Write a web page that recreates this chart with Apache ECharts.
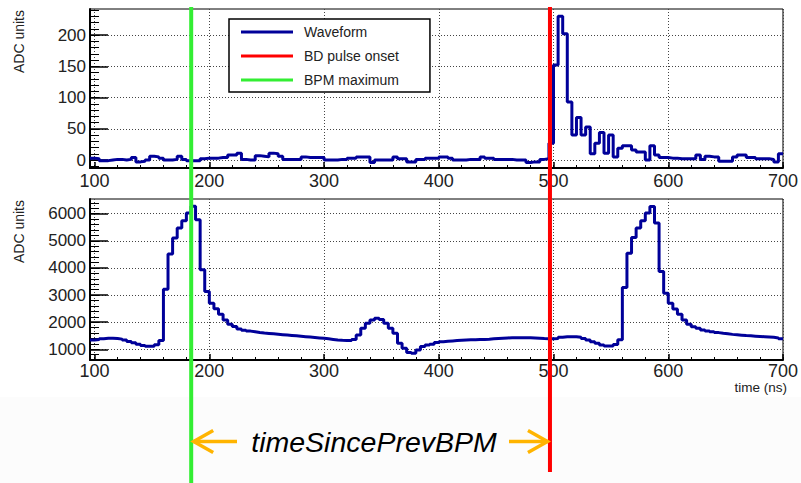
<!DOCTYPE html>
<html>
<head>
<meta charset="utf-8">
<script src="https://cdn.jsdelivr.net/npm/echarts@6/dist/echarts.min.js"></script>
<style>
html,body{margin:0;padding:0;background:#ffffff;}
#chart{width:801px;height:483px;}
</style>
</head>
<body>
<div id="chart"></div>
<script>
// ---------------- data ----------------
const binStart = 96;      // ns, left edge of first bin
const binWidth = 4;       // ns
const xMin = 96;
const xMax = 700;

const xTickValues = [100, 200, 300, 400, 500, 600, 700];
const xMinorTickValues = [100, 120, 140, 160, 180, 200, 220, 240, 260, 280, 300, 320, 340, 360, 380, 400,
  420, 440, 460, 480, 500, 520, 540, 560, 580, 600, 620, 640, 660, 680, 700];

const topYMin = -12.8, topYMax = 241.6;
const topYTicks = [0, 50, 100, 150, 200];
const topYMinorTicks = [-10, 0, 10, 20, 30, 40, 50, 60, 70, 80, 90, 100, 110, 120, 130, 140, 150, 160,
  170, 180, 190, 200, 210, 220, 230, 240];

const bottomYMin = 605, bottomYMax = 6543;
const bottomYTicks = [1000, 2000, 3000, 4000, 5000, 6000];
const bottomYMinorTicks = [800, 1000, 1200, 1400, 1600, 1800, 2000, 2200, 2400, 2600, 2800, 3000, 3200,
  3400, 3600, 3800, 4000, 4200, 4400, 4600, 4800, 5000, 5200, 5400, 5600, 5800, 6000, 6200, 6400];

// breakdown-signal waveform (ADC units), one value per 4 ns bin starting at 96 ns
const waveformTop = [
  3, 2, -1, -1, 0, 1, 1, 0, 1, 4,
  -3, -2, 0, 6, 5, 3, 0, 0, 1, 6,
  1, -1, -1, -1, 2, 3, 3, 3, 4, 4,
  8, 8, 11, 1, 0, 0, 7, 6, 5, 11,
  10, 6, 1, 1, 1, 1, 5, 4, 4, 4,
  4, 0, 0, 0, 1, 1, 3, 3, 5, 5,
  5, -4, 0, 0, 0, 0, 5, 2, 2, -3,
  -3, 1, 1, 3, 3, 3, 5, 5, 3, 0,
  0, 0, 1, 1, 1, 5, 3, 3, 1, 1,
  1, 1, 0, 0, 0, -4, -3, -3, 1, 2,
  27, 152, 230, 202, 93, 40, 68, 40, 53, 10,
  27, 44, 11, 40, 5, 19, 23, 23, 16, 13,
  13, 0, 23, 8, 4, 4, 3, 3, 2, 2,
  2, 2, 8, 1, 6, 5, 5, -2, -2, -2,
  5, 8, 8, 4, 4, 2, 2, 2, 1, -3,
  10
];

// BPM waveform (ADC units), one value per 4 ns bin starting at 96 ns
const waveformBottom = [
  1340, 1360, 1390, 1405, 1410, 1400, 1375, 1340, 1290, 1240,
  1185, 1140, 1110, 1115, 1170, 1320, 3218, 4511, 5103, 5472,
  5743, 6027, 6273, 5780, 3932, 3131, 2700, 2491, 2294, 2084,
  1924, 1838, 1751, 1700, 1670, 1645, 1620, 1600, 1585, 1570,
  1555, 1540, 1525, 1510, 1495, 1480, 1465, 1450, 1435, 1420,
  1405, 1385, 1365, 1345, 1330, 1320, 1320, 1360, 1528, 1775,
  1960, 2080, 2145, 2100, 1960, 1775, 1590, 1220, 1040, 880,
  850, 975, 1100, 1160, 1190, 1250, 1280, 1300, 1310, 1320,
  1330, 1340, 1350, 1355, 1360, 1365, 1370, 1385, 1400, 1410,
  1420, 1425, 1430, 1430, 1430, 1425, 1415, 1405, 1395, 1390,
  1385, 1400, 1440, 1460, 1465, 1460, 1440, 1400, 1340, 1280,
  1220, 1160, 1125, 1120, 1180, 1350, 3276, 4546, 5123, 5470,
  5740, 6024, 6268, 5655, 3868, 3069, 2700, 2490, 2293, 2083,
  1923, 1835, 1776, 1714, 1676, 1645, 1615, 1590, 1570, 1550,
  1535, 1520, 1505, 1495, 1485, 1475, 1465, 1455, 1440, 1420,
  1390
];

const legendNames = ['Waveform', 'BD pulse onset', 'BPM maximum'];
const bpmMaximumTime = 184.2;   // ns
const bdOnsetTime = 496.9;      // ns
const annotationText = 'timeSincePrevBPM';
const yAxisTitle = 'ADC units';
const xAxisTitle = 'time (ns)';

// ---------------- chart ----------------
const FONT = '"Liberation Sans", Arial, Helvetica, sans-serif';
const BLUE = '#000099';
const RED = '#ff0000';
const GREEN = '#33ee33';
const ORANGE = '#ffb400';

function histPoints(values) {
  const pts = values.map((v, i) => [binStart + i * binWidth, v]);
  pts.push([binStart + values.length * binWidth, values[values.length - 1]]);
  return pts;
}
const plain = v => String(v);

const dotted = { show: true, lineStyle: { type: [1, 2], color: '#444', width: 1 } };

function mainX(gridIndex) {
  return {
    type: 'value', gridIndex, min: xMin, max: xMax, position: 'bottom',
    axisLine: { show: true, onZero: false, lineStyle: { color: '#000', width: 2 } },
    axisTick: { show: true, inside: true, length: 6, customValues: xTickValues, lineStyle: { color: '#000', width: 1.5 } },
    axisLabel: { customValues: xTickValues, formatter: plain, fontSize: 18, color: '#222', fontFamily: FONT, margin: gridIndex === 0 ? 4 : 2 },
    splitLine: dotted
  };
}
function minorX(gridIndex) {
  return {
    type: 'value', gridIndex, min: xMin, max: xMax, position: 'bottom',
    axisLine: { show: false, onZero: false },
    axisTick: { show: true, inside: true, length: 3, customValues: xMinorTickValues, lineStyle: { color: '#000', width: 1 } },
    axisLabel: { show: false },
    splitLine: { show: false }
  };
}
function mainY(gridIndex, min, max, ticks) {
  return {
    type: 'value', gridIndex, min, max, position: 'left',
    axisLine: { show: true, onZero: false, lineStyle: { color: '#000', width: 2 } },
    axisTick: { show: true, inside: true, length: 18, customValues: ticks, lineStyle: { color: '#000', width: 1.5 } },
    axisLabel: { customValues: ticks, formatter: plain, fontSize: 17, color: '#222', fontFamily: FONT, margin: 4 },
    splitLine: dotted
  };
}
function minorY(gridIndex, min, max, ticks) {
  return {
    type: 'value', gridIndex, min, max, position: 'left',
    axisLine: { show: false, onZero: false },
    axisTick: { show: true, inside: true, length: 9, customValues: ticks, lineStyle: { color: '#000', width: 1 } },
    axisLabel: { show: false },
    splitLine: { show: false }
  };
}

const chart = echarts.init(document.getElementById('chart'), null, { renderer: 'svg' });

chart.setOption({
  animation: false,
  backgroundColor: '#ffffff',
  grid: [
    { left: 90, top: 9, width: 696, height: 159, show: true, borderColor: '#000', borderWidth: 1, backgroundColor: 'transparent' },
    { left: 90, top: 199, width: 696, height: 161, show: true, borderColor: '#000', borderWidth: 1, backgroundColor: 'transparent' }
  ],
  xAxis: [mainX(0), minorX(0), mainX(1), minorX(1)],
  yAxis: [
    mainY(0, topYMin, topYMax, topYTicks),
    minorY(0, topYMin, topYMax, topYMinorTicks),
    mainY(1, bottomYMin, bottomYMax, bottomYTicks),
    minorY(1, bottomYMin, bottomYMax, bottomYMinorTicks)
  ],
  legend: {
    data: legendNames,
    orient: 'vertical',
    left: 229, top: 19,
    padding: [6, 31, 5, 12],
    itemGap: 10,
    itemWidth: 52, itemHeight: 3,
    icon: 'rect',
    backgroundColor: '#ffffff',
    borderColor: '#000', borderWidth: 1.5, borderRadius: 0,
    selectedMode: false,
    textStyle: { fontSize: 14, color: '#222', fontFamily: FONT, padding: [0, 0, 0, 6] }
  },
  series: [
    {
      name: legendNames[0], type: 'line', step: 'end', xAxisIndex: 0, yAxisIndex: 0,
      data: histPoints(waveformTop), showSymbol: false, symbol: 'none', color: BLUE,
      lineStyle: { color: BLUE, width: 3 }, z: 3
    },
    {
      name: legendNames[0], type: 'line', step: 'end', xAxisIndex: 2, yAxisIndex: 2,
      data: histPoints(waveformBottom), showSymbol: false, symbol: 'none', color: BLUE,
      lineStyle: { color: BLUE, width: 3 }, z: 3
    },
    { name: legendNames[1], type: 'line', xAxisIndex: 0, yAxisIndex: 0, data: [], color: RED, lineStyle: { color: RED, width: 3 } },
    { name: legendNames[2], type: 'line', xAxisIndex: 0, yAxisIndex: 0, data: [], color: GREEN, lineStyle: { color: GREEN, width: 3 } }
  ]
});

// vertical markers and annotation placed through the x scale
const gx = chart.convertToPixel({ xAxisIndex: 0 }, bpmMaximumTime);
const rx = chart.convertToPixel({ xAxisIndex: 0 }, bdOnsetTime);
const ay = 441.5;

chart.setOption({
  graphic: [
    { type: 'rect', z: -10, silent: true, shape: { x: 0, y: 397, width: 801, height: 86 }, style: { fill: '#fcfcfc' } },
    { type: 'text', x: 19, y: 10, rotation: Math.PI / 2, z: 50,
      style: { text: yAxisTitle, fontSize: 14, fontFamily: FONT, fill: '#222', align: 'right', verticalAlign: 'middle' } },
    { type: 'text', x: 19, y: 200, rotation: Math.PI / 2, z: 50,
      style: { text: yAxisTitle, fontSize: 14, fontFamily: FONT, fill: '#222', align: 'right', verticalAlign: 'middle' } },
    { type: 'text', x: 787, y: 387, z: 50,
      style: { text: xAxisTitle, fontSize: 13.5, fontFamily: FONT, fill: '#222', align: 'right', verticalAlign: 'middle' } },
    { type: 'line', z: 100, shape: { x1: gx, y1: 7, x2: gx, y2: 483 }, style: { stroke: GREEN, lineWidth: 4 } },
    { type: 'line', z: 100, shape: { x1: rx, y1: 7, x2: rx, y2: 472 }, style: { stroke: RED, lineWidth: 4 } },
    { type: 'line', z: 100, shape: { x1: gx + 2, y1: ay, x2: 237, y2: ay }, style: { stroke: ORANGE, lineWidth: 3.5 } },
    { type: 'polyline', z: 100, shape: { points: [[gx + 22, ay - 11], [gx + 2.5, ay], [gx + 22, ay + 11]] },
      style: { stroke: ORANGE, lineWidth: 3.5, fill: null } },
    { type: 'line', z: 100, shape: { x1: 509, y1: ay, x2: rx - 2, y2: ay }, style: { stroke: ORANGE, lineWidth: 3.5 } },
    { type: 'polyline', z: 100, shape: { points: [[rx - 22, ay - 11], [rx - 2.5, ay], [rx - 22, ay + 11]] },
      style: { stroke: ORANGE, lineWidth: 3.5, fill: null } },
    { type: 'text', x: 374, y: 442, z: 100,
      style: { text: annotationText, fontSize: 28.5, fontStyle: 'italic', fontFamily: FONT, fill: '#000', align: 'center', verticalAlign: 'middle' } }
  ]
});
</script>
</body>
</html>
